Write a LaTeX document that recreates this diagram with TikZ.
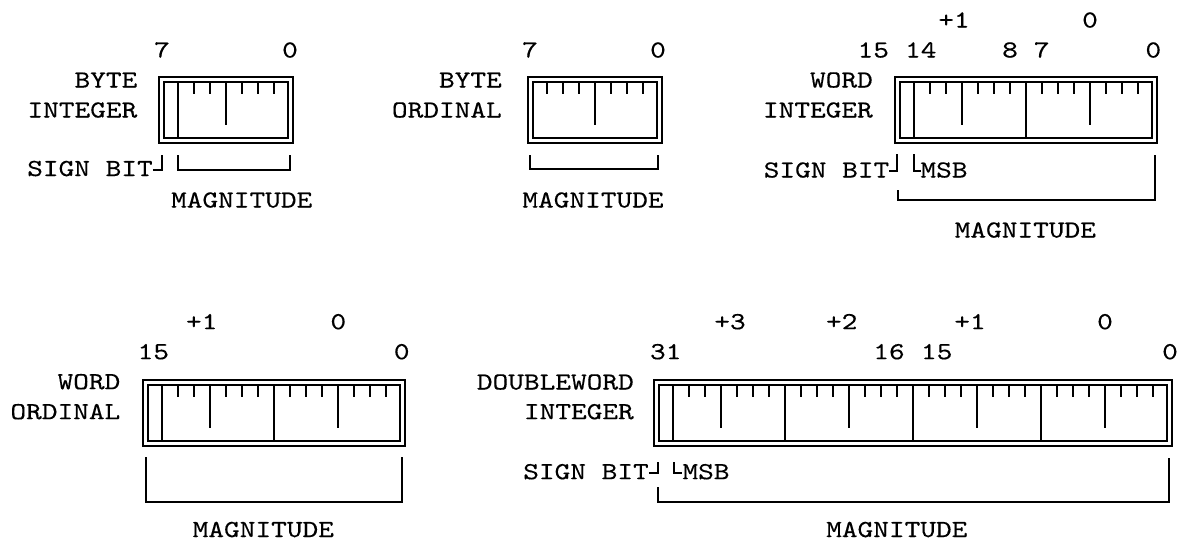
\documentclass[tikz,border=0pt]{standalone}
\usepackage{fontspec}
\newfontfamily\regmono{lmmono10-regular.otf}[FakeStretch=1.22,FakeBold=0.3]
\tikzset{
  reg/.style={line width=2pt, line cap=butt, line join=miter},
  brk/.style={line width=2pt, line cap=butt, line join=miter},
  lbl/.style={font={\regmono\fontsize{24.5pt}{26pt}\selectfont}, inner sep=0pt, text height=15pt, text depth=0pt},
}
% #1 first tick x, #2 number of bits, #3 outer top y, #4 first tick long (1) or short (0)
\newcommand{\drawregister}[4]{%
  \pgfmathsetmacro{\rgxil}{#1-14}%
  \pgfmathsetmacro{\rgxir}{#1+16*(#2-2)+14}%
  \pgfmathsetmacro{\rgxol}{\rgxil-5}%
  \pgfmathsetmacro{\rgxor}{\rgxir+5}%
  \pgfmathsetmacro{\rgyot}{#3}%
  \pgfmathsetmacro{\rgyit}{#3+5}%
  \pgfmathsetmacro{\rgyib}{#3+61}%
  \pgfmathsetmacro{\rgyob}{#3+66}%
  \pgfmathsetmacro{\rgysh}{#3+5+12}%
  \pgfmathsetmacro{\rgymd}{#3+5+43}%
  \draw[reg] (\rgxol,\rgyot) rectangle (\rgxor,\rgyob);
  \draw[reg] (\rgxil,\rgyit) rectangle (\rgxir,\rgyib);
  \pgfmathtruncatemacro{\rglast}{#2-2}%
  \foreach \k in {0,...,\rglast}{%
    \pgfmathsetmacro{\rgxx}{#1+16*\k}%
    \pgfmathtruncatemacro{\rgkm}{mod(\k,8)}%
    \ifnum\k=0
      \ifnum#4=1 \let\rgyend\rgyib \else \let\rgyend\rgysh \fi
    \else
      \ifnum\rgkm=7 \let\rgyend\rgyib
      \else \ifnum\rgkm=3 \let\rgyend\rgymd \else \let\rgyend\rgysh \fi
      \fi
    \fi
    \draw[reg] (\rgxx,\rgyit) -- (\rgxx,\rgyend);
  }%
}
\begin{document}
\begin{tikzpicture}[x=1pt,y=-1pt]
\useasboundingbox (0,0) rectangle (1183,542);

% ---------- BYTE INTEGER ----------
\drawregister{178}{8}{77}{1}
\node[lbl] (bi7) at (162,50) {7};
\node[lbl] (bi0) at (290,50) {0};
\node[lbl, anchor=east] (biname1) at (137.5,80) {BYTE};
\node[lbl, anchor=east] (biname2) at (137.5,110) {INTEGER};
\node[lbl] (bisign) at (90,168.5) {SIGN BIT};
\draw[brk] (bisign.east |- 0,170) -- (162,170) -- (162,155);
\draw[brk] (178,155) -- (178,170) -- (290,170) -- (290,155);
\node[lbl] (bimag) at (241.7,200) {MAGNITUDE};

% ---------- BYTE ORDINAL ----------
\drawregister{547}{8}{77}{0}
\node[lbl] (bo7) at (530,50) {7};
\node[lbl] (bo0) at (658,50) {0};
\node[lbl, anchor=east] (boname1) at (502,80) {BYTE};
\node[lbl, anchor=east] (boname2) at (502,110) {ORDINAL};
\draw[brk] (530,155) -- (530,169) -- (658,169) -- (658,155);
\node[lbl] (bomag) at (593,200) {MAGNITUDE};

% ---------- WORD INTEGER ----------
\drawregister{914}{16}{77}{1}
\node[lbl] (wip1) at (954,20) {+1};
\node[lbl] (wip0) at (1090,20) {0};
\node[lbl] (wi15) at (873.3,50) {15};
\node[lbl] (wi14) at (920.8,50) {14};
\node[lbl] (wi8) at (1010,50) {8};
\node[lbl] (wi7) at (1041.7,50) {7};
\node[lbl] (wi0) at (1153.3,50) {0};
\node[lbl, anchor=east] (winame1) at (873,80) {WORD};
\node[lbl, anchor=east] (winame2) at (873,110) {INTEGER};
\node[lbl] (wisign) at (826.5,170) {SIGN BIT};
\draw[brk] (wisign.east |- 0,171) -- (897,171) -- (897,154);
\draw[brk] (914,154) -- (914,171) -- (921,171);
\node[lbl] (wimsb) at (944,170) {MSB};
\draw[brk] (898,190) -- (898,200) -- (1155,200) -- (1155,155);
\node[lbl] (wimag) at (1025.3,230) {MAGNITUDE};

% ---------- WORD ORDINAL ----------
\drawregister{162}{16}{380}{1}
\node[lbl] (wop1) at (201.7,321.7) {+1};
\node[lbl] (wop0) at (338.3,321.7) {0};
\node[lbl] (wo15) at (153.3,351.7) {15};
\node[lbl] (wo0) at (401.7,351.7) {0};
\node[lbl, anchor=east] (woname1) at (120.5,381.7) {WORD};
\node[lbl, anchor=east] (woname2) at (120.5,411.7) {ORDINAL};
\draw[brk] (146,457) -- (146,502) -- (402,502) -- (402,457);
\node[lbl] (womag) at (263.3,529.5) {MAGNITUDE};

% ---------- DOUBLEWORD INTEGER ----------
\drawregister{673}{32}{380}{1}
\node[lbl] (dip3) at (730,321.7) {+3};
\node[lbl] (dip2) at (841.7,321.7) {+2};
\node[lbl] (dip1) at (970,321.7) {+1};
\node[lbl] (dip0) at (1105,321.7) {0};
\node[lbl] (di31) at (665.7,351.7) {31};
\node[lbl] (di16) at (889,351.7) {16};
\node[lbl] (di15) at (936.7,351.7) {15};
\node[lbl] (di0) at (1170,351.7) {0};
\node[lbl, anchor=east] (diname1) at (634,382) {DOUBLEWORD};
\node[lbl, anchor=east] (diname2) at (634,411.7) {INTEGER};
\node[lbl] (disign) at (586,471.7) {SIGN BIT};
\draw[brk] (disign.east |- 0,473) -- (658,473) -- (658,462);
\draw[brk] (674,462) -- (674,473) -- (682,473);
\node[lbl] (dimsb) at (706,471.7) {MSB};
\draw[brk] (658,487) -- (658,502) -- (1169,502) -- (1169,458);
\node[lbl] (dimag) at (896.8,529.5) {MAGNITUDE};
\end{tikzpicture}
\end{document}
